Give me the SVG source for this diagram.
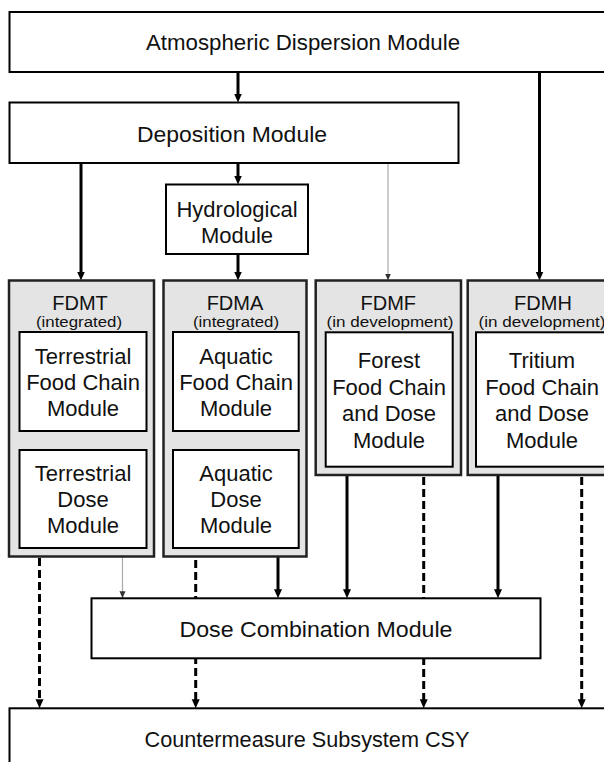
<svg xmlns="http://www.w3.org/2000/svg" width="604" height="762" viewBox="0 0 604 762">
<style>
.box{fill:#fff;stroke:#000;stroke-width:2}
.grp{fill:#e4e4e4;stroke:#222;stroke-width:2.5}
.t{font-family:"Liberation Sans",Arial,sans-serif;font-size:22px;text-anchor:middle;fill:#111}
.h{font-size:20px}
.s{font-size:14px}
.c{stroke:#000;stroke-width:3;fill:none}
.d{stroke-dasharray:8 4}
.g{stroke:#aaa;stroke-width:1.2}
</style>
<defs>
<marker id="ah" markerUnits="userSpaceOnUse" markerWidth="10" markerHeight="9" refX="3" refY="4" orient="auto">
<path d="M0,0 L9,4 L0,8 z" fill="#000"/>
</marker>
<marker id="ahs" markerUnits="userSpaceOnUse" markerWidth="8" markerHeight="7" refX="2" refY="3" orient="auto">
<path d="M0,0 L7,3 L0,6 z" fill="#333"/>
</marker>
</defs>
<g id="connectors">
<line class="c" x1="238" y1="72" x2="238" y2="96.5" marker-end="url(#ah)"/>
<line class="c" x1="81" y1="162.5" x2="81" y2="274.5" marker-end="url(#ah)"/>
<line class="c" x1="238" y1="162.5" x2="238" y2="178.5" marker-end="url(#ah)"/>
<line class="c g" x1="388" y1="162.5" x2="388" y2="275.5" marker-end="url(#ahs)"/>
<line class="c" x1="539.5" y1="72" x2="539.5" y2="274.5" marker-end="url(#ah)"/>
<line class="c" x1="238" y1="254" x2="238" y2="274.5" marker-end="url(#ah)"/>
<line class="c" x1="81.5" y1="431" x2="81.5" y2="444" marker-end="url(#ah)"/>
<line class="c" x1="237.5" y1="431" x2="237.5" y2="444" marker-end="url(#ah)"/>
<line class="c g" x1="122.5" y1="556.5" x2="122.5" y2="593.3" marker-end="url(#ahs)"/>
<line class="c" x1="278" y1="556.5" x2="278" y2="592.3" marker-end="url(#ah)"/>
<line class="c" x1="347" y1="475" x2="347" y2="592.3" marker-end="url(#ah)"/>
<line class="c" x1="498" y1="475" x2="498" y2="592.3" marker-end="url(#ah)"/>
<line class="c d" x1="39.5" y1="558" x2="39.5" y2="702.3" marker-end="url(#ah)"/>
<line class="c d" x1="195.7" y1="560" x2="195.7" y2="702.3" marker-end="url(#ah)"/>
<line class="c d" x1="423.7" y1="477" x2="423.7" y2="702.3" marker-end="url(#ah)"/>
<line class="c d" x1="581.7" y1="477" x2="581.7" y2="702.3" marker-end="url(#ah)"/>
</g>
<g id="adm">
<rect class="box" x="9.5" y="12" width="610" height="60"/>
<text class="t" x="303" y="50" textLength="314" lengthAdjust="spacingAndGlyphs">Atmospheric Dispersion Module</text>
</g>
<g id="dm">
<rect class="box" x="9.5" y="102.5" width="449" height="60.5"/>
<text class="t" x="232" y="141.5" textLength="190" lengthAdjust="spacingAndGlyphs">Deposition Module</text>
</g>
<g id="hydro">
<rect class="box" x="166" y="184.5" width="142" height="69.5"/>
<text class="t" x="237" y="217">Hydrological</text>
<text class="t" x="237" y="243">Module</text>
</g>
<g id="fdmt">
<rect class="grp" x="9" y="280.5" width="145" height="276"/>
<text class="t h" x="80" y="309.5">FDMT</text>
<text class="t s" x="79" y="326.5" textLength="86" lengthAdjust="spacingAndGlyphs">(integrated)</text>
</g>
<g id="tfc">
<rect class="box" x="19.5" y="332" width="127" height="99"/>
<text class="t" x="83" y="363.5">Terrestrial</text>
<text class="t" x="83" y="389.5">Food Chain</text>
<text class="t" x="83" y="415.5">Module</text>
</g>
<g id="td">
<rect class="box" x="19.5" y="450" width="127" height="98"/>
<text class="t" x="83" y="481">Terrestrial</text>
<text class="t" x="83" y="507">Dose</text>
<text class="t" x="83" y="533">Module</text>
</g>
<g id="fdma">
<rect class="grp" x="163.5" y="280.5" width="143" height="276"/>
<text class="t h" x="235" y="309.5">FDMA</text>
<text class="t s" x="236" y="326.5" textLength="86" lengthAdjust="spacingAndGlyphs">(integrated)</text>
</g>
<g id="afc">
<rect class="box" x="173" y="332" width="125.7" height="99"/>
<text class="t" x="236" y="363.5">Aquatic</text>
<text class="t" x="236" y="389.5">Food Chain</text>
<text class="t" x="236" y="415.5">Module</text>
</g>
<g id="ad">
<rect class="box" x="173" y="450" width="125.7" height="98"/>
<text class="t" x="236" y="481">Aquatic</text>
<text class="t" x="236" y="507">Dose</text>
<text class="t" x="236" y="533">Module</text>
</g>
<g id="fdmf">
<rect class="grp" x="315.7" y="280.5" width="145.3" height="194.5"/>
<text class="t h" x="388.3" y="309.5">FDMF</text>
<text class="t s" x="390" y="326.5" textLength="127" lengthAdjust="spacingAndGlyphs">(in development)</text>
</g>
<g id="ffc">
<rect class="box" x="325.7" y="332.3" width="127" height="134.4"/>
<text class="t" x="389" y="368">Forest</text>
<text class="t" x="389" y="394.5">Food Chain</text>
<text class="t" x="389" y="421">and Dose</text>
<text class="t" x="389" y="447.5">Module</text>
</g>
<g id="fdmh">
<rect class="grp" x="467.7" y="280.5" width="150" height="194.5"/>
<text class="t h" x="543" y="309.5">FDMH</text>
<text class="t s" x="542" y="326.5" textLength="127" lengthAdjust="spacingAndGlyphs">(in development)</text>
</g>
<g id="tfd">
<rect class="box" x="476" y="332.3" width="132" height="134.4"/>
<text class="t" x="542" y="368">Tritium</text>
<text class="t" x="542" y="394.5">Food Chain</text>
<text class="t" x="542" y="421">and Dose</text>
<text class="t" x="542" y="447.5">Module</text>
</g>
<g id="dcm">
<rect class="box" x="91.5" y="598.3" width="449" height="60"/>
<text class="t" x="316" y="637" textLength="273" lengthAdjust="spacingAndGlyphs">Dose Combination Module</text>
</g>
<g id="csy">
<rect class="box" x="9.5" y="708.3" width="610" height="70"/>
<text class="t" x="307" y="747" textLength="325" lengthAdjust="spacingAndGlyphs">Countermeasure Subsystem CSY</text>
</g>
</svg>
